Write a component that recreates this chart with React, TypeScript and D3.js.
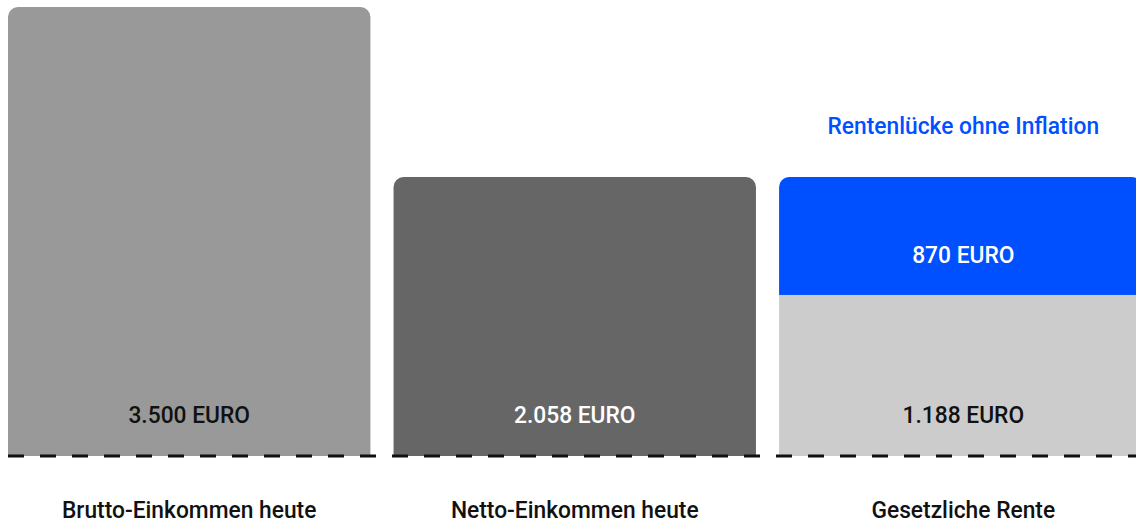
import React, { useEffect, useRef } from 'react';
import * as d3 from 'd3';

const categories = ['Brutto-Einkommen heute', 'Netto-Einkommen heute', 'Gesetzliche Rente'];
const baseValues = [3500, 2058, 1188];
const gapValues = [0, 0, 870];
const valueLabels = ['3.500 EURO', '2.058 EURO', '1.188 EURO'];
const gapLabels = ['', '', '870 EURO'];
const gapTitle = 'Rentenlücke ohne Inflation';
// bars above this value are cut at the top of the plot
const yCap = 3312;

const FONT = 'Roboto, "Noto Sans", sans-serif';
const SQUEEZE = 0.95;

const topRounded = (x: number, y: number, w: number, h: number, r: number) =>
  `M${x},${y + h}V${y + r}A${r},${r} 0 0 1 ${x + r},${y}H${x + w - r}A${r},${r} 0 0 1 ${x + w},${y + r}V${y + h}Z`;

const App = () => {
  const ref = useRef<SVGSVGElement>(null);

  useEffect(() => {
    const svg = d3.select(ref.current);
    svg.selectAll('*').remove();

    const width = 1136;
    const height = 525;
    const margin = { top: 7, left: 8, base: 456 };

    const x = d3.scaleBand<string>()
      .domain(categories)
      .range([margin.left, margin.left + 1133.5])
      .paddingInner(0.06)
      .paddingOuter(0);

    const y = d3.scaleLinear()
      .domain([0, yCap])
      .range([margin.base, margin.top])
      .clamp(true);

    const colors = ['#999999', '#666666', '#cccccc'];
    const labelColors = ['#111111', '#ffffff', '#111111'];
    const blue = '#0050ff';

    const g = svg.append('g');

    const label = (cx: number, by: number, fill: string, txt: string) =>
      g.append('text')
        .attr('transform', `translate(${cx},${by}) scale(${SQUEEZE},1)`)
        .attr('text-anchor', 'middle')
        .attr('fill', fill)
        .attr('font-size', 24)
        .attr('font-weight', 500)
        .text(txt);

    categories.forEach((c, i) => {
      const x0 = x(c)!;
      const bw = x.bandwidth();
      const cx = x0 + bw / 2 + (i === 2 ? 3 : 0);
      const hasGap = gapValues[i] > 0;
      const baseTop = y(baseValues[i]);
      const totalTop = y(baseValues[i] + gapValues[i]);

      if (hasGap) {
        g.append('path')
          .attr('d', topRounded(x0, totalTop, bw, baseTop - totalTop, 10))
          .attr('fill', blue);
        g.append('rect')
          .attr('x', x0).attr('y', baseTop)
          .attr('width', bw).attr('height', margin.base - baseTop)
          .attr('fill', colors[i]);
        label(cx, baseTop - 32, '#ffffff', gapLabels[i]);
        label(cx, totalTop - 43, blue, gapTitle);
      } else {
        g.append('path')
          .attr('d', topRounded(x0, baseTop, bw, margin.base - baseTop, 10))
          .attr('fill', colors[i]);
      }

      label(cx, margin.base - 33, labelColors[i], valueLabels[i]);
      label(cx, 518, '#111111', c);
    });

    // dashed baseline
    svg.append('line')
      .attr('x1', margin.left).attr('x2', width)
      .attr('y1', margin.base).attr('y2', margin.base)
      .attr('stroke', '#111111')
      .attr('stroke-width', 3)
      .attr('stroke-dasharray', '16,16');

    svg.attr('width', width).attr('height', height);
  }, []);

  return (
    <svg
      ref={ref}
      style={{ position: 'absolute', left: 0, top: 0, fontFamily: FONT }}
    />
  );
};

export default App;
